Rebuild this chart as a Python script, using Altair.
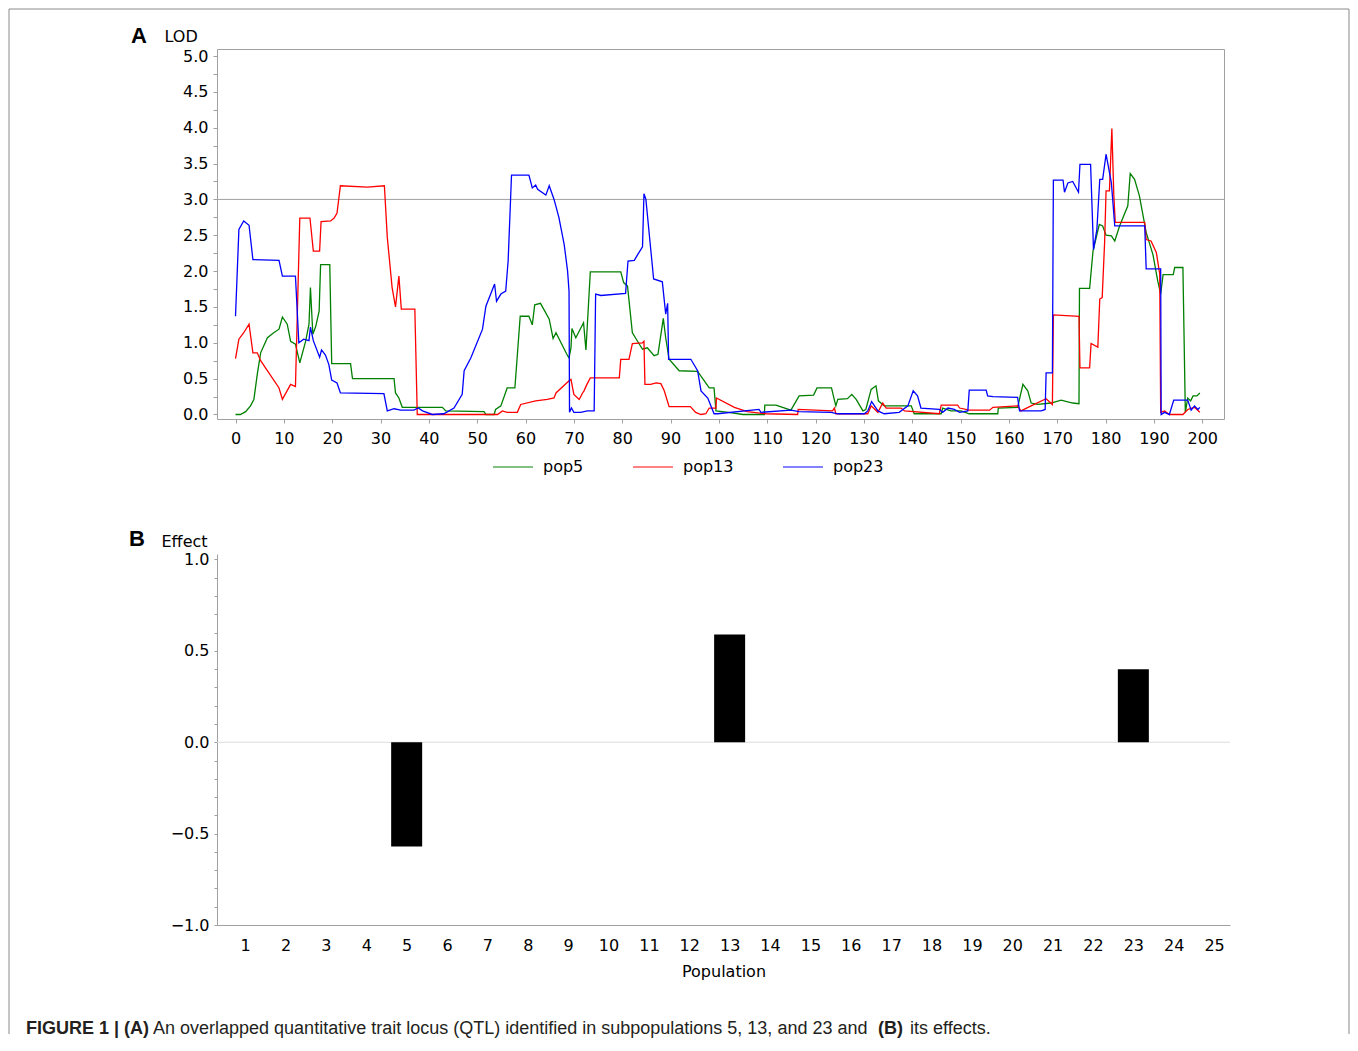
import altair as alt
import pandas as pd

# ---------------- data: panel A (LOD profiles) ----------------
pop5_x = [0, 1.0, 2.1, 3.1, 3.8, 4.5, 5.2, 6.6, 7.9, 9.0, 9.7, 10.7, 11.4, 12.4, 13.3, 14.5, 15.2, 15.5, 16.0, 16.6,
          17.3, 17.6, 19.5, 19.9, 23.8, 24.2, 32.8, 33.1, 33.8, 34.5, 42.8, 43.5, 51.4, 51.8, 53.5, 53.8, 54.9, 56.2,
          57.8, 58.9, 60.7, 61.4, 61.9, 63.1, 64.9, 65.7, 66.3, 68.7, 69.0, 69.4, 69.6, 70.4, 72.0, 72.5, 73.4, 79.7,
          80.3, 81.1, 82.1, 84.2, 85.2, 86.6, 87.4, 88.5, 89.0, 89.7, 91.8, 95.6, 98.0, 99.0, 99.4, 102.0, 105.0,
          109.4, 109.5, 111.8, 114.9, 116.6, 119.6, 120.3, 123.3, 123.9, 124.2, 124.6, 126.6, 127.5, 128.4, 129.8,
          130.4, 131.5, 132.5, 133.0, 134.2, 139.8, 140.4, 146.0, 146.3, 148.0, 150.1, 151.8, 157.7, 157.8, 161.8,
          162.9, 163.9, 164.6, 166.0, 168.7, 170.8, 173.2, 174.5, 174.6, 176.7, 177.4, 178.7, 179.4, 180.1, 181.2,
          181.9, 182.9, 184.6, 185.1, 186.0, 187.0, 188.4, 189.8, 190.8, 191.4, 191.9, 194.0, 194.3, 196.0, 196.5,
          197.0, 197.6, 198.1, 198.9, 199.5]
pop5_y = [0.0, 0.0, 0.04, 0.12, 0.21, 0.56, 0.86, 1.07, 1.14, 1.19, 1.36, 1.26, 1.02, 0.98, 0.72, 1.02, 1.26, 1.77,
          1.12, 1.23, 1.44, 2.09, 2.09, 0.71, 0.71, 0.50, 0.50, 0.30, 0.23, 0.10, 0.10, 0.05, 0.04, 0.0, 0.0, 0.07,
          0.12, 0.37, 0.37, 1.37, 1.37, 1.25, 1.53, 1.55, 1.33, 1.06, 1.14, 0.82, 0.79, 0.93, 1.20, 1.07, 1.28, 0.90,
          1.99, 1.99, 1.84, 1.79, 1.14, 0.91, 0.93, 0.82, 0.84, 1.34, 1.07, 0.77, 0.61, 0.60, 0.37, 0.37, 0.05, 0.03,
          0.0, 0.0, 0.13, 0.13, 0.06, 0.26, 0.27, 0.37, 0.37, 0.20, 0.12, 0.21, 0.22, 0.28, 0.21, 0.05, 0.07, 0.35,
          0.40, 0.19, 0.12, 0.12, 0.01, 0.01, 0.09, 0.05, 0.05, 0.01, 0.01, 0.09, 0.10, 0.42, 0.33, 0.16, 0.14, 0.16,
          0.20, 0.16, 0.15, 1.76, 1.76, 2.28, 2.65, 2.63, 2.50, 2.49, 2.42, 2.63, 2.91, 3.36, 3.28, 3.05, 2.54, 2.23,
          1.86, 1.68, 1.95, 1.95, 2.05, 2.05, 0.03, 0.23, 0.19, 0.26, 0.26, 0.30]

pop13_x = [0, 0.7, 1.7, 2.8, 3.6, 4.5, 5.2, 9.0, 9.7, 11.4, 12.4, 13.3, 15.4, 16.1, 17.4, 17.7, 19.7, 20.4, 21.0,
           21.7, 27.3, 30.8, 31.4, 32.4, 33.1, 33.8, 34.3, 37.1, 37.6, 54.2, 55.2, 56.2, 58.3, 59.0, 62.1, 64.5, 65.9,
           66.3, 69.0, 69.4, 70.0, 71.1, 71.8, 72.1, 72.7, 73.4, 79.4, 79.7, 81.4, 82.1, 84.2, 84.5, 84.7, 85.9, 87.0,
           88.0, 88.7, 89.7, 94.1, 95.2, 96.3, 97.3, 98.0, 99.4, 99.5, 103.2, 105.9, 109.7, 116.3, 116.4, 123.5,
           123.9, 124.2, 130.8, 131.5, 132.9, 133.9, 134.6, 137.7, 138.4, 145.6, 146.0, 149.4, 149.8, 151.8, 156.0,
           156.7, 161.8, 162.5, 164.6, 167.7, 169.0, 169.2, 174.5, 174.7, 176.7, 177.0, 178.4, 178.8, 179.3, 179.8,
           180.1, 180.8, 181.3, 181.7, 182.0, 188.1, 188.4, 189.4, 190.5, 191.2, 191.4, 192.2, 193.2, 196.0, 197.0,
           198.4, 199.5]
pop13_y = [0.78, 1.05, 1.14, 1.26, 0.86, 0.86, 0.75, 0.37, 0.21, 0.42, 0.39, 2.74, 2.74, 2.28, 2.28, 2.69, 2.70,
           2.74, 2.81, 3.19, 3.17, 3.19, 2.47, 1.77, 1.50, 1.93, 1.47, 1.47, 0.0, 0.0, 0.05, 0.03, 0.03, 0.14, 0.19,
           0.21, 0.23, 0.30, 0.47, 0.49, 0.28, 0.21, 0.30, 0.33, 0.42, 0.51, 0.51, 0.77, 0.77, 0.99, 1.0, 1.02, 0.42,
           0.42, 0.44, 0.43, 0.33, 0.11, 0.11, 0.03, 0.0, 0.01, 0.09, 0.09, 0.23, 0.10, 0.04, 0.01, 0.0, 0.07, 0.05,
           0.09, 0.01, 0.01, 0.12, 0.03, 0.16, 0.09, 0.09, 0.05, 0.01, 0.13, 0.13, 0.09, 0.06, 0.06, 0.10, 0.12, 0.05,
           0.12, 0.22, 0.14, 1.39, 1.37, 0.65, 0.65, 0.99, 0.94, 1.61, 1.63, 2.40, 3.12, 3.12, 3.99, 3.07, 2.68, 2.68,
           2.44, 2.42, 2.26, 1.96, 0.03, 0.05, 0.0, 0.0, 0.07, 0.10, 0.03]

pop23_x = [0, 0.7, 1.7, 2.8, 3.6, 9.0, 9.7, 12.4, 13.1, 14.1, 15.2, 15.5, 16.1, 17.4, 17.8, 18.6, 19.3, 19.9, 21.0,
           21.7, 30.7, 31.4, 32.8, 34.2, 36.9, 37.8, 38.7, 40.7, 43.1, 45.2, 46.9, 47.3, 48.7, 51.1, 51.8, 53.6, 54.0,
           54.9, 55.9, 56.4, 57.1, 60.7, 61.4, 62.1, 62.5, 64.2, 64.9, 65.9, 66.9, 68.0, 68.7, 69.0, 69.1, 69.5, 70.0,
           71.4, 72.8, 74.2, 74.5, 75.6, 80.7, 81.2, 82.5, 83.2, 84.2, 84.5, 84.9, 86.5, 88.3, 89.0, 89.4, 89.6, 94.2,
           95.6, 96.3, 97.7, 99.0, 99.7, 108.3, 108.7, 114.9, 116.6, 123.2, 124.6, 130.1, 130.8, 131.6, 132.9, 134.2,
           137.3, 139.1, 140.2, 141.1, 141.8, 145.6, 146.3, 147.4, 148.7, 149.8, 151.5, 151.8, 155.3, 155.6, 156.7,
           161.8, 162.2, 166.7, 167.5, 167.7, 169.0, 169.2, 171.2, 171.5, 172.2, 173.2, 174.4, 174.7, 176.9, 177.5,
           178.2, 178.8, 179.4, 180.1, 181.2, 181.9, 188.1, 188.4, 191.4, 191.5, 192.2, 193.2, 194.1, 197.0, 197.7,
           198.4, 199.1, 199.5]
pop23_y = [1.37, 2.58, 2.70, 2.64, 2.16, 2.15, 1.93, 1.93, 1.0, 1.05, 1.03, 1.22, 1.03, 0.80, 0.90, 0.83, 0.70, 0.48,
           0.44, 0.30, 0.29, 0.05, 0.08, 0.06, 0.06, 0.09, 0.05, 0.0, 0.01, 0.09, 0.28, 0.61, 0.79, 1.19, 1.51, 1.82,
           1.58, 1.68, 1.72, 2.14, 3.34, 3.34, 3.16, 3.20, 3.14, 3.06, 3.19, 3.0, 2.75, 2.37, 2.0, 1.72, 0.03, 0.09,
           0.03, 0.03, 0.05, 0.05, 1.68, 1.66, 1.69, 2.14, 2.15, 2.23, 2.34, 3.08, 3.0, 1.89, 1.85, 1.40, 1.55, 0.77,
           0.77, 0.61, 0.33, 0.23, 0.01, 0.01, 0.07, 0.03, 0.06, 0.04, 0.03, 0.01, 0.01, 0.05, 0.18, 0.05, 0.01, 0.03,
           0.12, 0.33, 0.26, 0.09, 0.07, 0.03, 0.09, 0.07, 0.03, 0.05, 0.34, 0.34, 0.26, 0.25, 0.24, 0.05, 0.05, 0.07,
           0.58, 0.58, 3.27, 3.27, 3.10, 3.23, 3.25, 3.10, 3.49, 3.49, 2.30, 2.58, 3.28, 3.28, 3.63, 3.23, 2.63, 2.63,
           2.03, 2.03, 0.0, 0.03, 0.0, 0.20, 0.20, 0.06, 0.12, 0.07, 0.10]

series_names = ["pop5", "pop13", "pop23"]
series_colors = ["#008000", "#ff0000", "#0000ff"]
lod_threshold = [3.0]

# ---------------- data: panel B (effects) ----------------
populations = [5, 13, 23]
effects = [-0.57, 0.59, 0.40]
zero_level = [0.0]

# ---------------- tick values ----------------
x_ticks_a = list(range(0, 201, 10))
y_ticks_a = [i * 0.25 for i in range(21)]
x_ticks_b = list(range(1, 26))
y_ticks_b = [round(-1 + 0.1 * i, 1) for i in range(21)]

caption_bold_1 = "FIGURE 1 | (A)"
caption_text_1 = "An overlapped quantitative trait locus (QTL) identified in subpopulations 5, 13, and 23 and"
caption_bold_2 = "(B)"
caption_text_2 = "its effects."

# ---------------- build tables ----------------
rows = []
for name, xs, ys in [("pop5", pop5_x, pop5_y), ("pop13", pop13_x, pop13_y), ("pop23", pop23_x, pop23_y)]:
    for i, (xv, yv) in enumerate(zip(xs, ys)):
        rows.append({"series": name, "pos": xv, "lod": yv, "idx": i})
df_lines = pd.DataFrame(rows)
df_thr = pd.DataFrame({"lod": lod_threshold})
df_bars = pd.DataFrame({"population": populations, "effect": effects})
df_zero = pd.DataFrame({"effect": zero_level})
df_one = pd.DataFrame({"k": [0]})

FONT = "DejaVu Sans"
CAP_FONT = "Liberation Sans"
GRAY = "#a0a0a0"
FRAME = "#8a8a8a"
LBL = 16

half_expr = "abs(datum.value*2 - round(datum.value*2)) < 1e-6 ? format(datum.value, '.1f') : ''"

# ---------------- panel A ----------------
scale_xa = alt.Scale(domain=[-3.83, 204.5], nice=False, zero=False)
scale_ya = alt.Scale(domain=[-0.063, 5.098], nice=False, zero=False)
axis_xa = alt.Axis(values=x_ticks_a, title=None, grid=False, domain=False, tickColor=GRAY,
                   tickSize=4, labelPadding=7, labelFontSize=LBL, labelFont=FONT,
                   labelColor="black", format="d", labelOverlap=False)
axis_ya = alt.Axis(values=y_ticks_a, labelExpr=half_expr, title="LOD", titleAngle=0,
                   titleAlign="left", titleBaseline="alphabetic", titleX=-53, titleY=-8,
                   titleFontSize=LBL, titleFontWeight="normal", titleFont=FONT, titleColor="black",
                   grid=False, domain=False, tickColor=GRAY, tickSize=4, labelPadding=5,
                   labelFontSize=LBL, labelFont=FONT, labelColor="black", labelOverlap=False)

# open page frame (left, top, right edges)
frame_left = alt.Chart(df_one).mark_rule(color=FRAME, strokeWidth=1).encode(
    x=alt.value(-208), y=alt.value(-40), y2=alt.value(985))
frame_top = alt.Chart(df_one).mark_rule(color=FRAME, strokeWidth=1).encode(
    x=alt.value(-208), x2=alt.value(1132), y=alt.value(-40))
frame_right = alt.Chart(df_one).mark_rule(color=FRAME, strokeWidth=1).encode(
    x=alt.value(1132), y=alt.value(-40), y2=alt.value(985))

thr = alt.Chart(df_thr).mark_rule(color=GRAY, strokeWidth=1).encode(
    y=alt.Y("lod:Q", scale=scale_ya, axis=axis_ya))

lines = alt.Chart(df_lines).mark_line(strokeWidth=1.3, clip=True).encode(
    x=alt.X("pos:Q", scale=scale_xa, axis=axis_xa),
    y=alt.Y("lod:Q", scale=scale_ya, axis=axis_ya),
    color=alt.Color("series:N", scale=alt.Scale(domain=series_names, range=series_colors),
                    legend=alt.Legend(orient="none", legendX=275, legendY=397, direction="horizontal",
                                      title=None, symbolType="stroke", symbolSize=1600,
                                      symbolStrokeWidth=1.5, symbolOpacity=0.65, labelFontSize=LBL,
                                      labelFont=FONT, labelColor="black", labelOffset=9,
                                      columnPadding=46)),
    order=alt.Order("idx:Q"))

label_a = alt.Chart(df_one).mark_text(text="A", fontWeight="bold", fontSize=22, align="left",
                                      baseline="alphabetic", font=CAP_FONT, color="black").encode(
    x=alt.value(-86), y=alt.value(-6))

panel_a = alt.layer(frame_left, frame_top, frame_right, thr, lines, label_a).properties(
    width=1007, height=370, view=alt.ViewBackground(stroke=GRAY, strokeWidth=1))

# ---------------- panel B ----------------
scale_xb = alt.Scale(domain=[0.426, 25.27], nice=False, zero=False)
scale_yb = alt.Scale(domain=[-1, 1.03], nice=False, zero=False)
axis_xb = alt.Axis(values=x_ticks_b, title="Population", ticks=False, grid=False, domain=True,
                   domainColor=GRAY, labelPadding=12, labelFontSize=LBL, labelFont=FONT,
                   labelColor="black", titleFontSize=LBL, titleFont=FONT, titleFontWeight="normal",
                   titleColor="black", titlePadding=10, format="d", labelOverlap=False)
axis_yb = alt.Axis(values=y_ticks_b, labelExpr=half_expr, title="Effect", titleAngle=0,
                   titleAlign="left", titleBaseline="alphabetic", titleX=-56, titleY=-8,
                   titleFontSize=LBL, titleFontWeight="normal", titleFont=FONT, titleColor="black",
                   grid=False, domain=True, domainColor=GRAY, tickColor=GRAY, tickSize=3,
                   labelPadding=5, labelFontSize=LBL, labelFont=FONT, labelColor="black",
                   labelOverlap=False)

zero_line = alt.Chart(df_zero).mark_rule(color="#dcdcdc", strokeWidth=1).encode(
    y=alt.Y("effect:Q", scale=scale_yb, axis=axis_yb))

bars = alt.Chart(df_bars).mark_bar(size=31, color="black").encode(
    x=alt.X("population:Q", scale=scale_xb, axis=axis_xb),
    y=alt.Y("effect:Q", scale=scale_yb, axis=axis_yb),
    y2=alt.datum(0))

label_b = alt.Chart(df_one).mark_text(text="B", fontWeight="bold", fontSize=22, align="left",
                                      baseline="alphabetic", font=CAP_FONT, color="black").encode(
    x=alt.value(-88), y=alt.value(-8))


def cap(txt, xpos, bold):
    return alt.Chart(df_one).mark_text(text=txt, fontWeight="bold" if bold else "normal", fontSize=18,
                                       align="left", baseline="alphabetic", font=CAP_FONT,
                                       color="#231f20").encode(x=alt.value(xpos), y=alt.value(480))


panel_b = alt.layer(zero_line, bars, label_b,
                    cap(caption_bold_1, -191, True), cap(caption_text_1, -64, False),
                    cap(caption_bold_2, 661, True), cap(caption_text_2, 693, False)).properties(
    width=1013, height=371)

chart = alt.vconcat(panel_a, panel_b, spacing=135, bounds="flush").properties(
    padding=0).configure_view(strokeWidth=0).configure_axis(labelOverlap=False)

chart.save("out.html", embed_options={"renderer": "svg", "actions": False})
